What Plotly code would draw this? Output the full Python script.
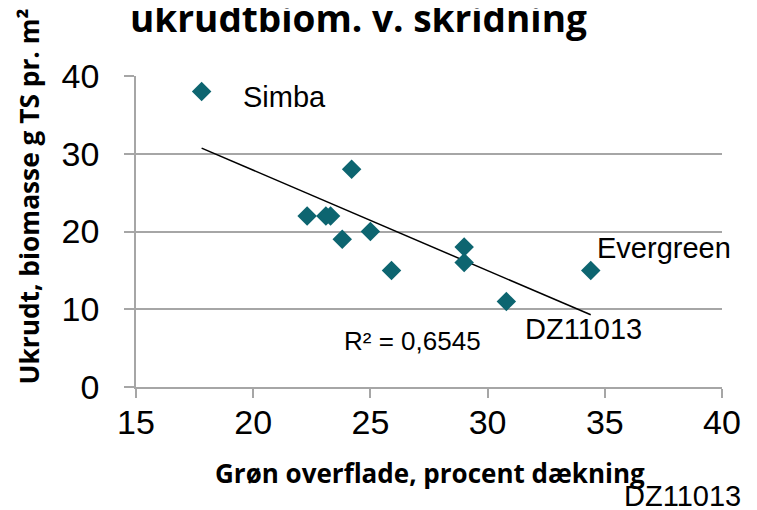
import numpy as np
import plotly.graph_objects as go

# Data
groen_overflade = [17.8, 22.3, 23.1, 23.3, 24.2, 23.8, 25.0, 25.9, 29.0, 29.0, 30.8, 34.4]
ukrudt_biomasse = [38, 22, 22, 22, 28, 19, 20, 15, 18, 16, 11, 15]
x_ticks = [15, 20, 25, 30, 35, 40]
y_ticks = [0, 10, 20, 30, 40]
label_texts = ["Simba", "Evergreen", "DZ11013"]
r2_text = "R² = 0,6545"

title_text = "ukrudtbiom. v. skridning"
x_title = "Grøn overflade, procent dækning"
y_title = "Ukrudt, biomasse g TS pr. m²"
footer_text = "DZ11013"

x = np.array(groen_overflade)
y = np.array(ukrudt_biomasse)
slope, intercept = np.polyfit(x, y, 1)
xt = np.array([x.min(), x.max()])
yt = slope * xt + intercept

teal = "#0d6570"
grid = "#a6a6a6"
sans = "Liberation Sans, Arial, sans-serif"
bold_font = "Open Sans, Noto Sans, sans-serif"

fig = go.Figure()
fig.add_trace(go.Scatter(x=xt, y=yt, mode="lines",
                         line=dict(color="black", width=1.5),
                         hoverinfo="skip", showlegend=False))
fig.add_trace(go.Scatter(x=x, y=y, mode="markers",
                         marker=dict(symbol="diamond", size=15, color=teal,
                                     line=dict(width=0)),
                         showlegend=False))

lab_font = dict(family=sans, size=29, color="black")

annotations = [
    dict(x=19.5, y=37.3, text=label_texts[0], xanchor="left", yanchor="middle", showarrow=False, font=lab_font),
    dict(x=34.6, y=17.9, text=label_texts[1], xanchor="left", yanchor="middle", showarrow=False, font=lab_font),
    dict(x=31.5, y=7.4, text=label_texts[2], xanchor="left", yanchor="middle", showarrow=False, font=lab_font),
    dict(x=23.8, y=5.9, text=r2_text, xanchor="left", yanchor="middle", showarrow=False,
         font=dict(family=sans, size=26, color="black")),
    dict(xref="paper", yref="paper", x=0.379, y=1.189, text="<b>" + title_text + "</b>",
         xanchor="center", yanchor="middle", showarrow=False,
         font=dict(family=bold_font, size=37, color="black")),
    dict(xref="paper", yref="paper", x=0.502, y=-0.277, text="<b>" + x_title + "</b>",
         xanchor="center", yanchor="middle", showarrow=False,
         font=dict(family=bold_font, size=26, color="black")),
    dict(xref="paper", yref="paper", x=-0.183, y=0.612, text="<b>" + y_title + "</b>",
         textangle=-90, xanchor="center", yanchor="middle", showarrow=False,
         font=dict(family=bold_font, size=26.3, color="black")),
    dict(xref="paper", yref="paper", x=0.933, y=-0.35, text=footer_text,
         xanchor="center", yanchor="middle", showarrow=False, font=lab_font),
]

fig.update_layout(
    width=757, height=510,
    margin=dict(l=128, r=43, t=68, b=131),
    plot_bgcolor="white", paper_bgcolor="white",
    annotations=annotations,
    xaxis=dict(range=[15, 40], tickvals=x_ticks, showgrid=False, zeroline=False,
               showline=True, linecolor=grid, linewidth=1.5,
               ticks="outside", ticklen=9, tickcolor=grid, tickwidth=1.5,
               ticklabelstandoff=-5,
               tickfont=dict(family=sans, size=34, color="black")),
    yaxis=dict(range=[0, 40], tickvals=y_ticks, showgrid=True, gridcolor=grid, gridwidth=1.5,
               zeroline=False, showline=True, linecolor=grid, linewidth=1.5,
               ticks="outside", ticklen=10, tickcolor=grid, tickwidth=1.5,
               ticklabelstandoff=18,
               tickfont=dict(family=sans, size=34, color="black")),
)

fig.write_html("out.html")
